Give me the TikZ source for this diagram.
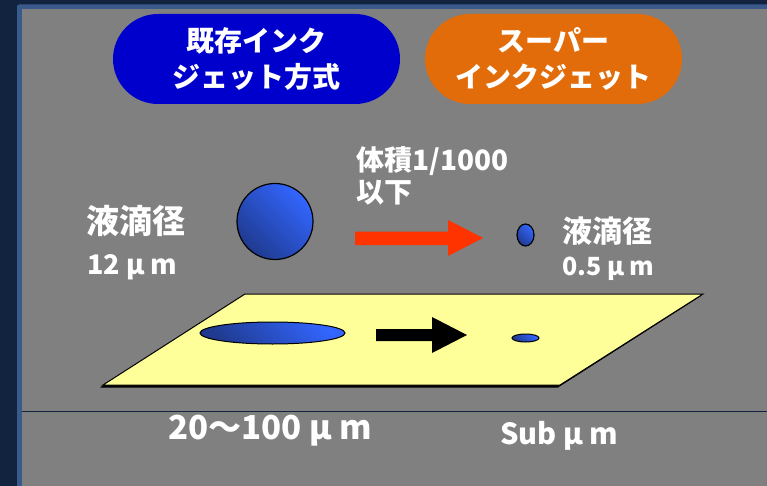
\documentclass[tikz,border=0pt]{standalone}
\usepackage{fontspec}
\setmainfont{Noto Sans CJK JP}
\definecolor{navy}{HTML}{12233F}
\definecolor{frameblue}{HTML}{3A5A8C}
\definecolor{panel}{HTML}{808080}
\definecolor{pillblue}{HTML}{0000CC}
\definecolor{pillorange}{HTML}{E36C0A}
\definecolor{arrowred}{HTML}{FF3300}
\definecolor{paleyellow}{HTML}{FFFF99}
\definecolor{balllight}{HTML}{3366FF}
\definecolor{balldark}{HTML}{1F3A8F}
\tikzset{
  pill/.style={draw=none, rounded corners=45pt, minimum height=90pt, inner sep=0pt,
    text=white, align=center, font=\bfseries\fontsize{28}{36}\selectfont},
  lbl/.style={text=white, inner sep=0pt, font=\bfseries\fontsize{#1}{#1}\selectfont},
  drop/.style={draw=black, line width=1.2pt, top color=balllight, bottom color=balldark, shading angle=-45}
}
\begin{document}
\begin{tikzpicture}[x=1pt,y=-1pt]
\useasboundingbox (0,0) rectangle (767,486);
\fill[navy] (0,0) rectangle (767,486);
\fill[frameblue, rounded corners=2pt] (17,4.5) rectangle (790,500);
\fill[panel] (22,9.5) rectangle (767,486);
\draw[navy, line width=1.2pt] (22,411.5) -- (767,411.5);

% pills
\node[pill, fill=pillblue, minimum width=287pt] (exist) at (256.5,59) {既存インク\\ジェット方式};
\node[pill, fill=pillorange, minimum width=257pt] (super) at (553.5,59) {スーパー\\インクジェット};

% droplets
\path[drop] (275,221.5) circle (38pt);
\coordinate (bigdrop) at (275,221.5);
\path[drop] (525.5,235) ellipse (8.5pt and 11pt);
\coordinate (smalldrop) at (525.5,235);

% labels
\node[lbl=33, anchor=west] (l1) at (86,221) {液滴径};
\node[lbl=27, anchor=west] (l2) at (87,267) {12 μ m};
\node[lbl=30, anchor=west] (r1) at (562,231) {液滴径};
\node[lbl=25, anchor=west] (r2) at (562,269) {0.5 μ m};
\node[lbl=28, anchor=west] (v1) at (356,161) {体積1/1000};
\node[lbl=28, anchor=west] (v2) at (356,193) {以下};

% red arrow
\fill[arrowred] (355,231.5) -- (448,231.5) -- (448,220) -- (483,238) -- (448,256) -- (448,245) -- (355,245) -- cycle;

% substrate
\fill[black] (243,296) -- (701,296) -- (558,387.5) -- (100,387.5) -- cycle;
\filldraw[fill=paleyellow, draw=black, line width=1pt] (245,294) -- (703,294) -- (560,385) -- (103,385) -- cycle;
\path[drop, line width=1pt] (272.5,333) ellipse (72.5pt and 11pt);
\path[drop, line width=1pt] (525.5,338) ellipse (13.5pt and 4pt);
\fill[black] (376,329) -- (432,329) -- (432,317) -- (467,335) -- (432,353) -- (432,341) -- (376,341) -- cycle;

% bottom labels
\node[lbl=33] (b1) at (270,431) {20～100 μ m};
\node[lbl=29, anchor=west] (b2) at (500,436) {Sub μ m};
\end{tikzpicture}
\end{document}
